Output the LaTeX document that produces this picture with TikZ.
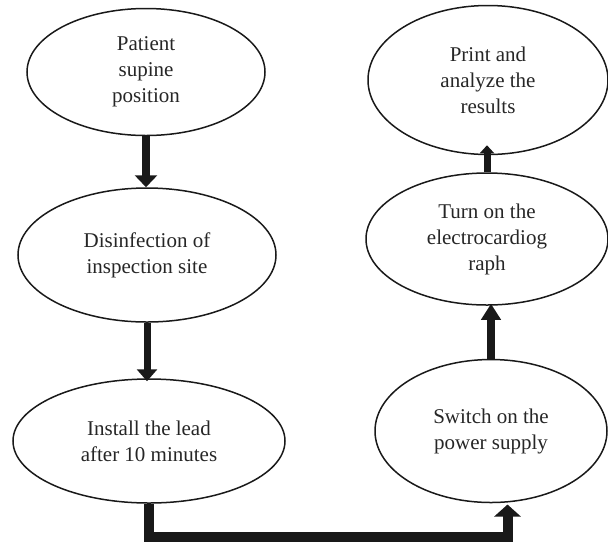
\documentclass[tikz,border=0pt]{standalone}
\usepackage{fontspec}
\setmainfont{Liberation Serif}
\usetikzlibrary{shapes.geometric,arrows.meta}
\begin{document}
\begin{tikzpicture}[x=1pt,y=-1pt,
  oval/.style={ellipse,draw=black!90,line width=1.5pt,inner sep=0pt,align=center,
    font=\fontsize{21}{26}\selectfont,text=black!85},
  bigflow/.style={draw=black!90,line width=8pt,-{Triangle[width=22pt,length=12pt]}},
  midflow/.style={draw=black!90,line width=7pt,-{Triangle[width=20pt,length=12pt]}},
  wideflow/.style={draw=black!90,line width=10pt,-{Triangle[width=26pt,length=12pt]}},
  upflow/.style={draw=black!90,line width=8pt,-{Triangle[width=19pt,length=16pt]}},
  smallflow/.style={draw=black!90,line width=7pt,-{Triangle[width=14pt,length=8pt]}}]
\useasboundingbox (0,0) rectangle (608,542);
\node[oval,minimum width=238pt,minimum height=127pt] (A) at (146,72) {Patient\\supine\\position};
\node[oval,minimum width=258pt,minimum height=134pt] (B) at (147,255) {Disinfection of\\inspection site};
\node[oval,minimum width=272pt,minimum height=124pt] (C) at (149,441) {Install the lead\\after 10 minutes};
\node[oval,minimum width=232pt,minimum height=143pt] (D) at (491,431) {Switch on the\\power supply};
\node[oval,minimum width=242pt,minimum height=132pt] (E) at (487,239) {Turn on the\\electrocardiog\\raph};
\node[oval,minimum width=240pt,minimum height=149pt] (F) at (488,80) {Print and\\analyze the\\results};
\coordinate (bot) at (0,537);
\draw[bigflow] (A.south) -- (A.south |- B.north);
\draw[midflow] (B.south) -- ([yshift=-3pt]B.south |- C.north);
\draw[wideflow] (C.south) -- (C.south |- bot) -| ([yshift=-2pt]D.-77);
\draw[upflow] (D.north) -- ([yshift=2pt]D.north |- E.south);
\draw[smallflow,shorten >=-10pt] (E.north) -- (E.north |- F.south);
\end{tikzpicture}
\end{document}
